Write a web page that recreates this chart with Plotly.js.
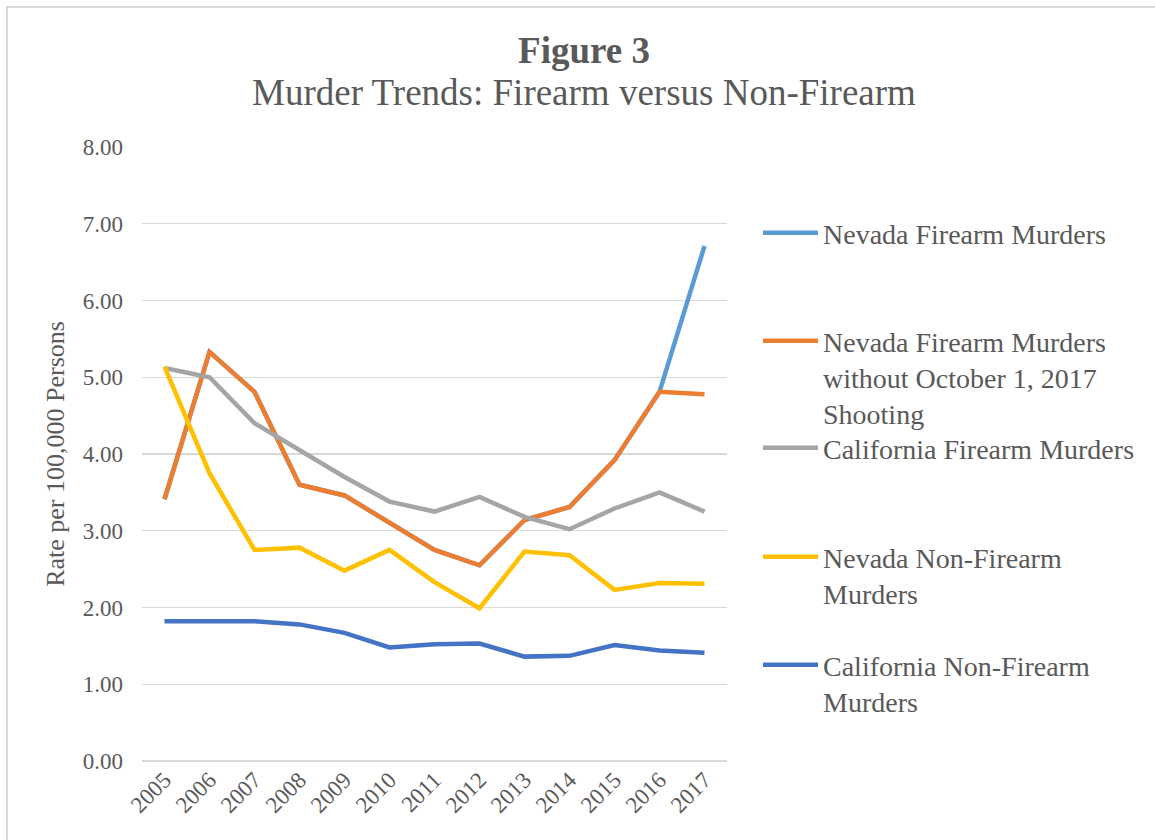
<!DOCTYPE html>
<html>
<head>
<meta charset="utf-8">
<script src="https://cdn.plot.ly/plotly-3.0.1.min.js"></script>
<style>
  html, body { margin: 0; padding: 0; background: #ffffff; overflow: hidden; }
  #frame { position: absolute; left: 6px; top: 6px; width: 1300px; height: 1000px;
           border: 2px solid #D9D9D9; box-sizing: border-box; pointer-events: none; }
  #chart { position: absolute; left: 0; top: 0; width: 1155px; height: 840px; }
</style>
</head>
<body>
<div id="frame"></div>
<div id="chart"></div>
<script>
// ---- data ----
var years = ['2005','2006','2007','2008','2009','2010','2011','2012','2013','2014','2015','2016','2017'];
var nvFirearm      = [3.41, 5.33, 4.81, 3.60, 3.46, 3.11, 2.75, 2.55, 3.14, 3.31, 3.92, 4.81, 6.71];
var nvFirearmExOct = [3.41, 5.33, 4.81, 3.60, 3.46, 3.11, 2.75, 2.55, 3.14, 3.31, 3.92, 4.81, 4.78];
var caFirearm      = [5.12, 5.00, 4.40, 4.05, 3.70, 3.38, 3.25, 3.44, 3.18, 3.02, 3.29, 3.50, 3.25];
var nvNonFirearm   = [5.14, 3.75, 2.75, 2.78, 2.48, 2.75, 2.33, 1.99, 2.73, 2.68, 2.23, 2.32, 2.31];
var caNonFirearm   = [1.82, 1.82, 1.82, 1.78, 1.67, 1.48, 1.52, 1.53, 1.36, 1.37, 1.51, 1.44, 1.41];
var seriesNames = [
  'Nevada Firearm Murders',
  'Nevada Firearm Murders<br>without October 1, 2017<br>Shooting',
  'California Firearm Murders',
  'Nevada Non-Firearm<br>Murders',
  'California Non-Firearm<br>Murders'
];
var yTicks = [0,1,2,3,4,5,6,7,8];
var yTickText = ['0.00','1.00','2.00','3.00','4.00','5.00','6.00','7.00','8.00'];

var colors = ['#5B9BD5', '#ED7D31', '#A5A5A5', '#FFC000', '#4472C4'];
var seriesData = [nvFirearm, nvFirearmExOct, caFirearm, nvNonFirearm, caNonFirearm];
var legendIds = ['legend', 'legend2', 'legend3', 'legend4', 'legend5'];

var FONT = 'Liberation Serif, Times New Roman, serif';
var TXT = '#595959';

var traces = seriesData.map(function (vals, i) {
  return {
    type: 'scatter', mode: 'lines',
    x: years, y: vals, name: seriesNames[i],
    line: { color: colors[i], width: 4.5, shape: 'linear' },
    legend: legendIds[i],
    hoverinfo: 'skip'
  };
});

var W = 1155, H = 840;
var legendCenters = [234, 342, 449, 558, 666];
var layout = {
  width: W, height: H,
  paper_bgcolor: 'rgba(0,0,0,0)', plot_bgcolor: 'rgba(0,0,0,0)',
  margin: { l: 142, r: W - 727, t: 147, b: H - 761, pad: 0 },
  font: { family: FONT, color: TXT },
  title: {
    text: '<b>Figure 3</b>',
    font: { family: FONT, size: 37, color: TXT },
    xref: 'container', x: 584 / W, xanchor: 'center',
    yref: 'container', y: 1 - 50 / H, yanchor: 'middle'
  },
  annotations: [{
    text: 'Murder Trends: Firearm versus Non-Firearm',
    xref: 'paper', yref: 'paper',
    x: (584 - 142) / 585, y: 1 + (147 - 93) / 614,
    xanchor: 'center', yanchor: 'middle', showarrow: false,
    font: { family: FONT, size: 37, color: TXT }
  }],
  xaxis: {
    type: 'category', range: [-0.5, 12.5],
    showgrid: false, zeroline: false, showline: false, ticks: '',
    tickangle: -45, tickfont: { family: FONT, size: 23, color: TXT },
    fixedrange: true
  },
  yaxis: {
    range: [0, 8], tickvals: yTicks, ticktext: yTickText,
    showgrid: true, gridcolor: '#D9D9D9', gridwidth: 1.3,
    zeroline: true, zerolinecolor: '#D9D9D9', zerolinewidth: 1.3,
    showline: false, ticks: '', ticklabelstandoff: 18,
    tickfont: { family: FONT, size: 23, color: TXT },
    title: { text: 'Rate per 100,000 Persons', font: { family: FONT, size: 26, color: TXT }, standoff: 10 },
    fixedrange: true
  }
};

legendIds.forEach(function (id, i) {
  layout[id] = {
    xref: 'container', yref: 'container',
    x: 758 / W, xanchor: 'left',
    y: 1 - (legendCenters[i] - 26) / H, yanchor: 'top',
    bgcolor: 'rgba(0,0,0,0)', borderwidth: 0,
    font: { family: FONT, size: 28, color: TXT },
    valign: 'top', itemwidth: 55, itemclick: false, itemdoubleclick: false
  };
});
layout.showlegend = true;

Plotly.newPlot('chart', traces, layout, { staticPlot: true, displayModeBar: false });
</script>
</body>
</html>
